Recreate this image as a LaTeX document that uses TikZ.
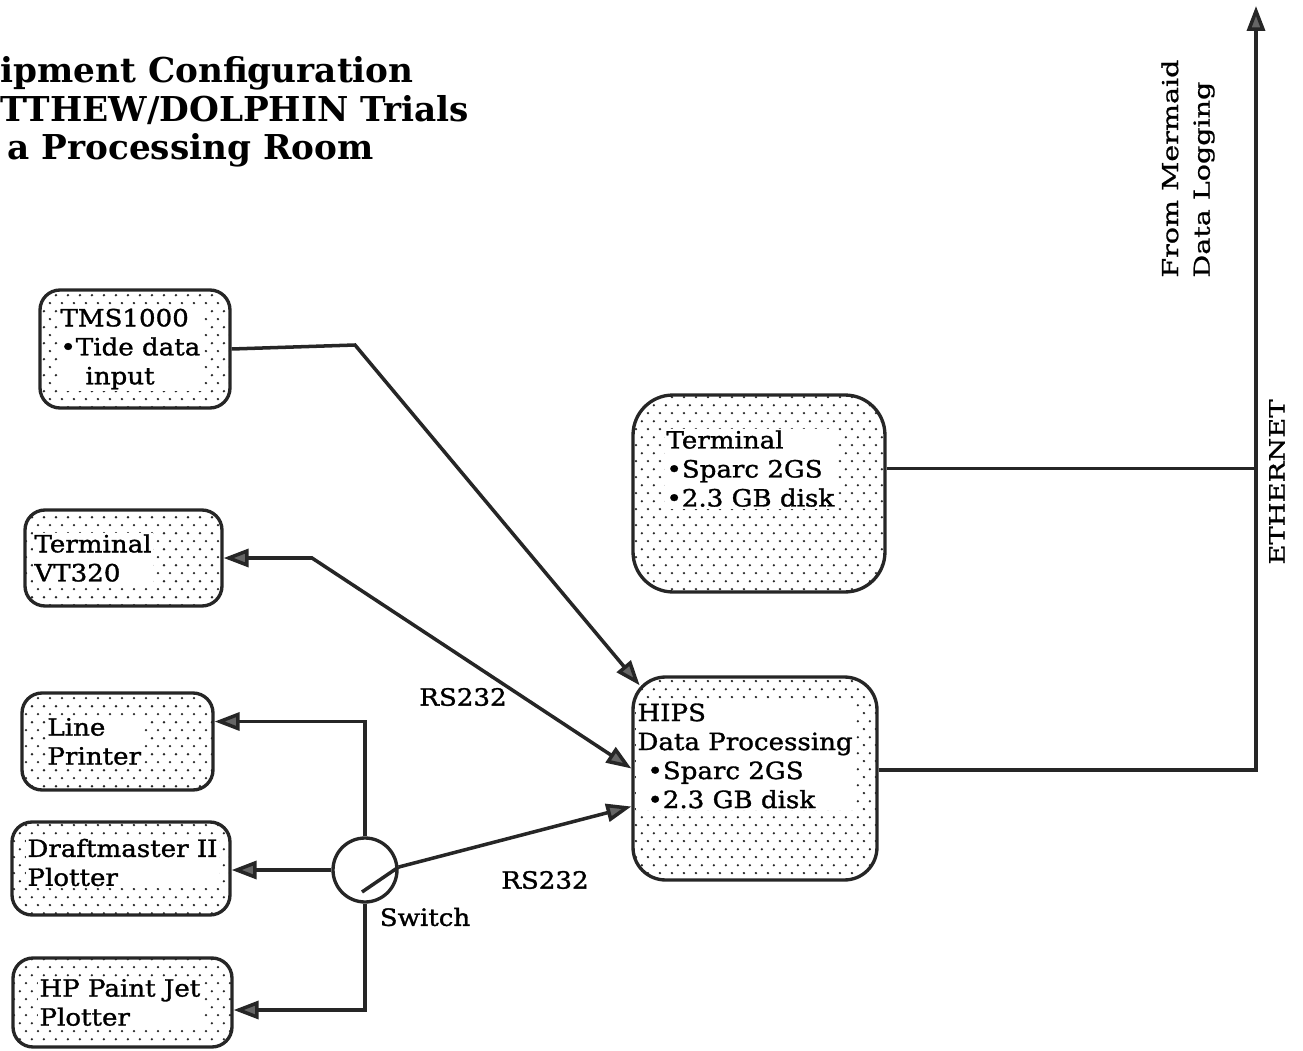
\documentclass[tikz,border=0pt]{standalone}
\usepackage{fontspec}
\setmainfont{DejaVu Serif}
\newfontfamily\boxfont[FakeStretch=1.1, FakeBold=1.3]{DejaVu Serif}
\newfontfamily\sidefont[FakeStretch=1.3, FakeBold=1]{DejaVu Serif}
\usetikzlibrary{arrows.meta,patterns.meta}

\tikzdeclarepattern{
  name=stipple,
  type=uncolored,
  bottom left={(0pt,0pt)},
  top right={(6.8pt,9pt)},
  tile size={(6.8pt,9pt)},
  code={
    \fill (1.7pt,2.25pt) circle (0.75pt);
    \fill (5.1pt,6.75pt) circle (0.75pt);
  }
}

\begin{document}
\begin{tikzpicture}[
    x=0.02cm, y=-0.02cm,
    >={Triangle[length=0.5cm, width=0.36cm, fill=black!60]},
    box/.style={draw=black!85, line width=1.9pt, rounded corners=0.4cm, pattern=stipple, pattern color=black!85},
    txt/.style={fill=white, inner sep=1pt, align=left, font=\boxfont\fontsize{13.5}{16.5}\selectfont},
    tag/.style={inner sep=0pt, font=\boxfont\fontsize{13.5}{16.5}\selectfont},
    wire/.style={draw=black!85, line width=2pt},
    link/.style={wire, ->},
    both/.style={wire, <->}
]
\useasboundingbox (0,0) rectangle (1303,1051);
\node[anchor=north west, inner sep=0pt, align=left, font=\bfseries\fontsize{19.5}{22}\selectfont] (title) at (0,56) {ipment Configuration\\TTHEW/DOLPHIN Trials\\\hspace*{0.14cm}a Processing Room};

\node[box, minimum width=3.8cm, minimum height=2.36cm] (tms) at (135,349) {};
\node[txt, anchor=west] (tmstxt) at ([xshift=0.4cm]tms.west) {TMS1000\\\textbullet Tide data\\\hspace*{0.5cm}input};
\node[box, minimum width=3.94cm, minimum height=1.92cm] (vt) at (123.5,558) {};
\node[txt, anchor=west] (vttxt) at ([xshift=0.18cm]vt.west) {Terminal\\VT320};
\node[box, minimum width=3.82cm, minimum height=1.94cm] (lp) at (117.5,741.5) {};
\node[txt, anchor=west] (lptxt) at ([xshift=0.5cm]lp.west) {Line\\Printer};
\node[box, minimum width=4.36cm, minimum height=1.86cm] (dm) at (121,868.5) {};
\node[txt, anchor=west] (dmtxt) at ([xshift=0.3cm, yshift=0.12cm]dm.west) {Draftmaster II\\Plotter};
\node[box, minimum width=4.38cm, minimum height=1.78cm] (hp) at (122.5,1002.5) {};
\node[txt, anchor=west] (hptxt) at ([xshift=0.52cm]hp.west) {HP Paint Jet\\Plotter};

\node[box, rounded corners=0.8cm, minimum width=5.04cm, minimum height=3.94cm] (sparc) at (759,493.5) {};
\node[txt, anchor=north west] (sparctxt) at ([shift={(33,35)}]sparc.north west) {Terminal\\\textbullet Sparc 2GS\\\textbullet 2.3 GB disk};
\node[box, rounded corners=0.65cm, minimum width=4.88cm, minimum height=4.06cm] (hips) at (755,778.5) {};
\node[txt, anchor=north west] (hipstxt) at ([shift={(4,26)}]hips.north west) {HIPS\\Data Processing\\\hspace*{0.2cm}\textbullet Sparc 2GS\\\hspace*{0.2cm}\textbullet 2.3 GB disk};

\node[circle, draw=black!85, line width=1.9pt, minimum size=1.28cm, inner sep=0pt] (sw) at (365,870) {};
\draw[wire] ([shift={(-3,22)}]sw.center) -- (sw.5);

\coordinate (bendA) at (355,345);
\coordinate (bendB) at (312,558);
\coordinate (ethtop) at (1256,6);
\coordinate (sparcport) at ([yshift=0.5cm]sparc.east);
\draw[link, shorten >=-0.26cm] (tms.east) -- (bendA) -- (hips.north west);
\draw[both] (vt.east) -- (bendB) -- ([yshift=0.2cm]hips.west);
\draw[link] (sw.5) -- ([yshift=-0.56cm]hips.west);
\draw[link] (sw.north) |- ([yshift=0.4cm]lp.east);
\draw[link] (sw.west) -- (sw.west -| dm.east);
\draw[link] (sw.south) |- ([yshift=-0.15cm]hp.east);
\draw[link] ([yshift=0.17cm]hips.east) -| (ethtop);
\draw[wire] (sparcport) -- (sparcport -| ethtop);

\node[tag] (rsone) at (463,697) {RS232};
\node[tag] (rstwo) at (545,880) {RS232};
\node[tag] (swlabel) at (425,917) {Switch};
\node[inner sep=0pt, rotate=90, font=\sidefont\fontsize{12}{12}\selectfont] (ethlabel) at (1277,482) {ETHERNET};
\node[inner sep=0pt, rotate=90, anchor=west, align=left, font=\sidefont\fontsize{12.5}{18}\selectfont] (mermaid) at (1188,278) {From Mermaid\\Data Logging};
\end{tikzpicture}
\end{document}
